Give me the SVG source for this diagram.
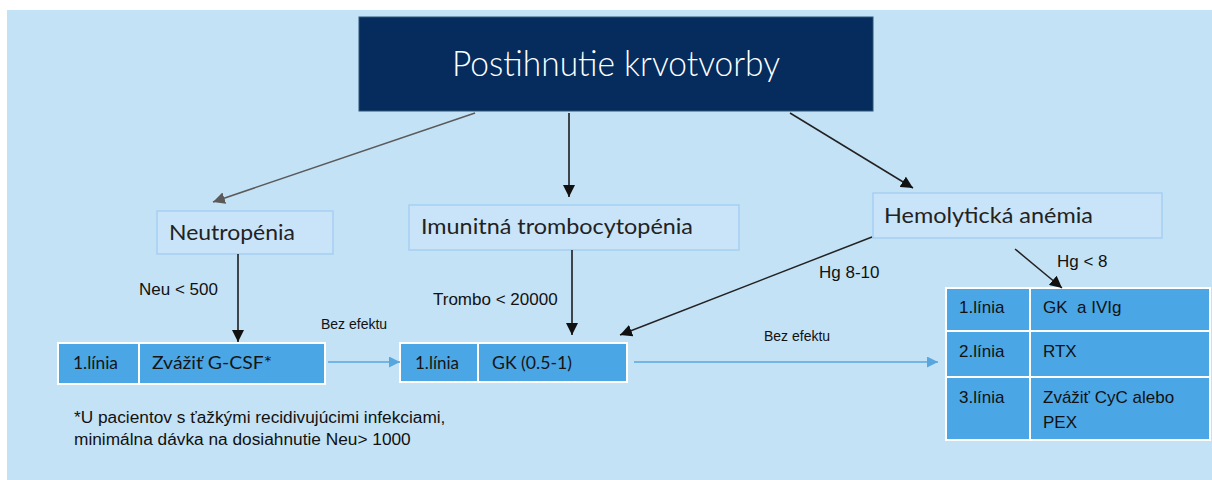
<svg xmlns="http://www.w3.org/2000/svg" width="1212" height="480" viewBox="0 0 1212 480">
  <style>
    .node-label { font-family: Lato, "DejaVu Sans", sans-serif; font-weight: 400; fill: #222; }
    .cell-label { font-family: Lato, "DejaVu Sans", sans-serif; font-weight: 400; font-size: 18px; fill: #151515; }
    .arial { font-family: "Liberation Sans", Arial, sans-serif; fill: #111; }
    .node-box { fill: #c9e4f8; stroke: #a6cff2; stroke-width: 1.5; }
    .cell { fill: #4aa6e4; stroke: #ffffff; stroke-width: 2; }
    .conn { fill: none; stroke-width: 1.5; }
  </style>
  <defs>
    <marker id="head-black" viewBox="0 0 10 10" refX="10" refY="5" markerWidth="12" markerHeight="12" markerUnits="userSpaceOnUse" orient="auto">
      <path d="M0,0 L10,5 L0,10 Z" fill="#111"/>
    </marker>
    <marker id="head-gray" viewBox="0 0 10 10" refX="10" refY="5" markerWidth="12" markerHeight="12" markerUnits="userSpaceOnUse" orient="auto">
      <path d="M0,0 L10,5 L0,10 Z" fill="#5a5a5a"/>
    </marker>
    <marker id="head-blue" viewBox="0 0 10 10" refX="10" refY="5" markerWidth="11" markerHeight="11" markerUnits="userSpaceOnUse" orient="auto">
      <path d="M0,0 L10,5 L0,10 Z" fill="#58a6de"/>
    </marker>
  </defs>

  <!-- canvas -->
  <rect x="0" y="0" width="1212" height="480" fill="#ffffff"/>
  <rect x="7" y="10" width="1205" height="470" fill="#c4e2f6"/>

  <!-- root -->
  <g id="root">
    <rect x="359" y="17" width="514" height="94" fill="#052c5d" stroke="#2b5577" stroke-width="1"/>
    <text x="452" y="76" font-family="Lato, 'DejaVu Sans', sans-serif" font-weight="300" font-size="35" fill="#ffffff" textLength="328" lengthAdjust="spacingAndGlyphs">Postihnutie krvotvorby</text>
  </g>

  <!-- category nodes -->
  <g id="neutropenia">
    <rect class="node-box" x="157" y="211" width="176" height="43"/>
    <text class="node-label" x="169" y="240" font-size="22" textLength="126" lengthAdjust="spacingAndGlyphs">Neutropénia</text>
  </g>
  <g id="itp">
    <rect class="node-box" x="409" y="205" width="330" height="45"/>
    <text class="node-label" x="421" y="234" font-size="22" textLength="272" lengthAdjust="spacingAndGlyphs">Imunitná trombocytopénia</text>
  </g>
  <g id="hemolyticka">
    <rect class="node-box" x="873" y="193" width="289" height="45"/>
    <text class="node-label" x="884" y="223" font-size="22" textLength="209" lengthAdjust="spacingAndGlyphs">Hemolytická anémia</text>
  </g>

  <!-- treatment tables -->
  <g id="gcsf">
    <rect class="cell" x="58" y="343" width="81" height="41"/>
    <rect class="cell" x="139" y="343" width="186" height="41"/>
    <text class="cell-label" x="73" y="369" textLength="45" lengthAdjust="spacingAndGlyphs">1.línia</text>
    <text class="cell-label" x="152" y="369" textLength="120" lengthAdjust="spacingAndGlyphs">Zvážiť G-CSF*</text>
  </g>
  <g id="gk">
    <rect class="cell" x="400" y="343" width="78" height="39"/>
    <rect class="cell" x="478" y="343" width="149" height="39"/>
    <text class="cell-label" x="415" y="369" textLength="44" lengthAdjust="spacingAndGlyphs">1.línia</text>
    <text class="cell-label" x="492" y="369" textLength="80" lengthAdjust="spacingAndGlyphs">GK (0.5-1)</text>
  </g>
  <g id="hemolyticka-liecba">
    <rect class="cell" x="946" y="288" width="84" height="43"/>
    <rect class="cell" x="1030" y="288" width="180" height="43"/>
    <rect class="cell" x="946" y="331" width="84" height="46"/>
    <rect class="cell" x="1030" y="331" width="180" height="46"/>
    <rect class="cell" x="946" y="377" width="84" height="63"/>
    <rect class="cell" x="1030" y="377" width="180" height="63"/>
    <text class="arial" x="959" y="313" font-size="17">1.línia</text>
    <text class="arial" x="1043" y="313" font-size="17" xml:space="preserve">GK  a IVIg</text>
    <text class="arial" x="959" y="357" font-size="17">2.línia</text>
    <text class="arial" x="1043" y="357" font-size="17">RTX</text>
    <text class="arial" x="959" y="403" font-size="17">3.línia</text>
    <text class="arial" x="1043" y="403" font-size="17">Zvážiť CyC alebo</text>
    <text class="arial" x="1043" y="428" font-size="17">PEX</text>
  </g>

  <!-- connectors -->
  <g id="connectors">
    <line class="conn" x1="475" y1="113" x2="213" y2="202" stroke="#5a5a5a" marker-end="url(#head-gray)"/>
    <line class="conn" x1="569" y1="113" x2="569" y2="197" stroke="#111" marker-end="url(#head-black)"/>
    <line class="conn" x1="790" y1="113" x2="913" y2="188" stroke="#222" marker-end="url(#head-black)"/>
    <line class="conn" x1="238" y1="254" x2="238" y2="342" stroke="#111" marker-end="url(#head-black)"/>
    <line class="conn" x1="572" y1="250" x2="572" y2="335" stroke="#111" marker-end="url(#head-black)"/>
    <line class="conn" x1="872" y1="237" x2="620" y2="335" stroke="#222" marker-end="url(#head-black)"/>
    <line class="conn" x1="1015" y1="249" x2="1062" y2="288" stroke="#222" marker-end="url(#head-black)"/>
    <line class="conn" x1="328" y1="362" x2="400" y2="362" stroke="#58a6de" marker-end="url(#head-blue)"/>
    <line class="conn" x1="634" y1="362" x2="938" y2="362" stroke="#58a6de" marker-end="url(#head-blue)"/>
  </g>

  <!-- connector labels -->
  <g id="labels">
    <text class="arial" x="139" y="295" font-size="17">Neu &lt; 500</text>
    <text class="arial" x="433" y="305" font-size="17">Trombo &lt; 20000</text>
    <text class="arial" x="819" y="278" font-size="17">Hg 8-10</text>
    <text class="arial" x="1057" y="267" font-size="17">Hg &lt; 8</text>
    <text class="arial" x="321" y="329" font-size="14">Bez efektu</text>
    <text class="arial" x="764" y="341" font-size="14">Bez efektu</text>
  </g>

  <!-- footnote -->
  <g id="footnote">
    <text class="arial" x="74" y="423" font-size="17.3">*U pacientov s ťažkými recidivujúcimi infekciami,</text>
    <text class="arial" x="74" y="445" font-size="17.3">minimálna dávka na dosiahnutie Neu&gt; 1000</text>
  </g>
</svg>
